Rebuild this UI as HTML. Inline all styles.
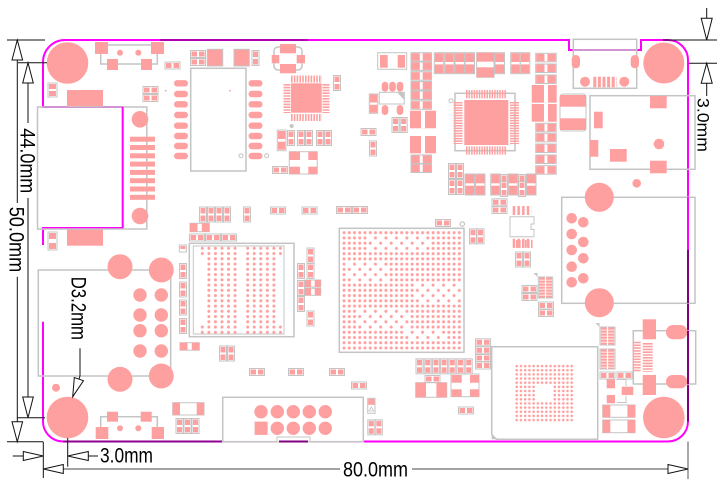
<!DOCTYPE html>
<html><head><meta charset="utf-8"><style>
html,body{margin:0;padding:0;background:#fff;}
svg{display:block}
.p{fill:#ffa0a0}
.g{fill:none;stroke:#c4c4c4;stroke-width:1.5}
.gw{fill:#fff;stroke:#c4c4c4;stroke-width:1}
.k{stroke:#111;stroke-width:1;fill:none}
.a{fill:#fff;stroke:#111;stroke-width:1}
.t{font-family:"Liberation Sans",Arial,sans-serif;font-size:21px;fill:#000}
.pin{fill:none;stroke:#ffa0a0}
</style></head><body>
<svg width="724" height="491" viewBox="0 0 724 491" xmlns="http://www.w3.org/2000/svg">
<defs>
<g id="rh"><rect x="0.5" y="0.5" width="15" height="7" class="gw"/><rect x="1.5" y="1.5" width="5.5" height="5" class="p"/><rect x="9" y="1.5" width="5.5" height="5" class="p"/></g>
<g id="rv"><rect x="0.5" y="0.5" width="7" height="15" class="gw"/><rect x="1.5" y="1.5" width="5" height="5.5" class="p"/><rect x="1.5" y="9" width="5" height="5.5" class="p"/></g>
<g id="ch"><rect x="0" y="0" width="20.5" height="8.5" class="gw"/><rect x="0.5" y="0.5" width="8.3" height="7.5" class="p"/><rect x="11.7" y="0.5" width="8.3" height="7.5" class="p"/></g>
<g id="cv"><rect x="0" y="0" width="9.5" height="21" class="gw"/><rect x="0.5" y="0.5" width="8.5" height="8.8" class="p"/><rect x="0.5" y="11.7" width="8.5" height="8.8" class="p"/></g>
<pattern id="dd" width="6.55" height="5.25" patternUnits="userSpaceOnUse"><circle cx="3.275" cy="2.625" r="1.5" fill="#ffa0a0"/></pattern>
<pattern id="sb" width="5.24" height="5.24" patternUnits="userSpaceOnUse"><circle cx="2.62" cy="2.62" r="1.5" fill="#ffa0a0"/></pattern>
<pattern id="vd" width="10.48" height="10.48" patternUnits="userSpaceOnUse"><circle cx="2.62" cy="2.62" r="2.3" fill="#fff"/><circle cx="7.86" cy="7.86" r="2.3" fill="#fff"/></pattern>
<pattern id="em" width="4.23" height="4.15" patternUnits="userSpaceOnUse"><circle cx="2.115" cy="2.075" r="1.3" fill="#ffa0a0"/></pattern>
</defs>
<rect width="724" height="491" fill="#fff"/>

<!-- board outline -->
<path d="M65 40 H569 V50 H641 V40 H668 A20 20 0 0 1 688 60 V421.5 A20 20 0 0 1 668 441.5 H63 A20 20 0 0 1 43 421.5 V321.7" fill="none" stroke="#ff00ff" stroke-width="2"/>
<path d="M43 245 V228 H122.7 V107 H43 V62 A22 22 0 0 1 65 40" fill="none" stroke="#ff00ff" stroke-width="2"/>
<line x1="688" y1="250" x2="688" y2="421.5" stroke="#800080" stroke-width="2"/>
<line x1="63" y1="441.5" x2="222" y2="441.5" stroke="#900090" stroke-width="2"/>
<line x1="160" y1="40" x2="308" y2="40" stroke="#b000b0" stroke-width="2"/>

<!-- mounting holes -->
<circle cx="67.5" cy="63" r="20.8" class="p"/>
<circle cx="67.5" cy="417.5" r="20.8" class="p"/>
<circle cx="663.8" cy="63" r="20.5" class="p"/>
<circle cx="663.8" cy="417.5" r="20.8" class="p"/>

<!-- top switch -->
<rect x="100.7" y="45" width="56.6" height="19" class="g"/>
<rect x="95" y="42" width="13" height="12" class="p"/>
<rect x="151" y="42" width="13" height="12" class="p"/>
<rect x="107" y="59" width="11" height="11" class="p"/>
<rect x="141" y="59" width="11" height="11" class="p"/>
<circle cx="120" cy="52.7" r="3" class="p"/>
<circle cx="138.3" cy="52.7" r="3" class="p"/>

<use href="#rh" x="164.5" y="61.5"/>
<use href="#rh" x="190" y="50"/>
<use href="#rh" x="190" y="58"/>
<rect x="207.3" y="49.3" width="15.4" height="16.7" class="p" stroke="#c4c4c4"/>
<rect x="234" y="49.3" width="15.3" height="16.7" class="p" stroke="#c4c4c4"/>
<use href="#rv" x="251.5" y="50"/>

<!-- module -->
<rect x="190.7" y="68.3" width="55.3" height="102.7" class="g"/>
<g class="p">
<rect x="174" y="80.1" width="14" height="6.4" rx="3.2"/><rect x="174" y="90.8" width="14" height="6.4" rx="3.2"/>
<rect x="174" y="101.1" width="14" height="6.4" rx="3.2"/><rect x="174" y="111.8" width="14" height="6.4" rx="3.2"/>
<rect x="174" y="122.5" width="14" height="6.4" rx="3.2"/><rect x="174" y="132.8" width="14" height="6.4" rx="3.2"/>
<rect x="174" y="142.8" width="14" height="6.4" rx="3.2"/><rect x="174" y="152.8" width="14" height="6.4" rx="3.2"/>
<rect x="248.5" y="80.1" width="14" height="6.4" rx="3.2"/><rect x="248.5" y="90.8" width="14" height="6.4" rx="3.2"/>
<rect x="248.5" y="101.1" width="14" height="6.4" rx="3.2"/><rect x="248.5" y="111.8" width="14" height="6.4" rx="3.2"/>
<rect x="248.5" y="122.5" width="14" height="6.4" rx="3.2"/><rect x="248.5" y="132.8" width="14" height="6.4" rx="3.2"/>
<rect x="248.5" y="142.8" width="14" height="6.4" rx="3.2"/><rect x="248.5" y="152.8" width="14" height="6.4" rx="3.2"/>
<circle cx="165.7" cy="90.7" r="0.9"/><circle cx="230" cy="90.7" r="0.9"/>
</g>
<circle cx="241" cy="155.7" r="2" fill="none" stroke="#c4c4c4"/>
<circle cx="266.7" cy="155.7" r="2" fill="none" stroke="#c4c4c4"/>

<use href="#rh" x="142.5" y="86"/>
<use href="#rh" x="142.5" y="94"/>

<!-- left small parts -->
<rect x="48" y="83" width="9" height="14" class="gw"/>
<rect x="49" y="84" width="7" height="5" class="p"/><rect x="49" y="91" width="7" height="5" class="p"/>
<rect x="48" y="232" width="9" height="18" class="gw"/>
<rect x="49" y="233" width="7" height="6" class="p"/><rect x="49" y="243" width="7" height="6" class="p"/>
<rect x="67" y="90" width="36" height="17" class="p"/>
<rect x="67" y="228.7" width="36" height="17" class="p"/>

<!-- SD box -->
<rect x="37.5" y="107" width="109.3" height="122" class="g"/>
<line x1="122.7" y1="107" x2="122.7" y2="228" stroke="#ff00ff" stroke-width="1.5"/>
<g class="p">
<rect x="130" y="136.7" width="25" height="5"/><rect x="130" y="145" width="25" height="5"/>
<rect x="130" y="153.3" width="25" height="5"/><rect x="130" y="161.6" width="25" height="5"/>
<rect x="130" y="169.9" width="25" height="5"/><rect x="130" y="178.2" width="25" height="5"/>
<rect x="130" y="186.5" width="25" height="5"/><rect x="130" y="194.8" width="25" height="5"/>
<circle cx="140" cy="119.3" r="8.3"/><circle cx="140" cy="216" r="8.3"/>
</g>

<!-- oscillator -->
<rect x="274" y="47" width="28" height="23" rx="4" class="g"/>
<g class="p">
<rect x="280" y="44" width="16" height="9.3"/><rect x="280" y="64" width="16" height="9.3"/>
<rect x="271.7" y="55" width="7.6" height="8.3"/><rect x="296.7" y="55" width="8.3" height="8.3"/>
</g>
<!-- QFN -->
<rect x="291" y="83.3" width="30.7" height="29.4" class="p"/>
<line x1="291" y1="79" x2="322" y2="79" class="pin" stroke-width="7" stroke-dasharray="1.6 1.2"/>
<line x1="291" y1="117.5" x2="322" y2="117.5" class="pin" stroke-width="7" stroke-dasharray="1.6 1.2"/>
<line x1="287" y1="84" x2="287" y2="113" class="pin" stroke-width="7" stroke-dasharray="1.6 1.2"/>
<line x1="326" y1="84" x2="326" y2="113" class="pin" stroke-width="7" stroke-dasharray="1.6 1.2"/>
<use href="#rv" x="333" y="75"/>
<circle cx="291.7" cy="126" r="2" fill="#c4c4c4"/>
<rect x="277.3" y="130" width="8.7" height="20.7" class="gw"/>
<rect x="278" y="131" width="7.3" height="8" class="p"/><rect x="278" y="141.7" width="7.3" height="8" class="p"/>
<use href="#rv" x="287" y="130"/>
<use href="#rv" x="297" y="130"/>
<use href="#rv" x="305" y="130"/>
<use href="#rv" x="316" y="130"/>
<use href="#rv" x="324" y="130"/>
<rect x="289.3" y="151.7" width="28" height="22.3" class="gw"/>
<g class="p">
<rect x="289.3" y="151.7" width="10.7" height="8.3"/><rect x="308.3" y="151.7" width="9" height="8.3"/>
<rect x="289.3" y="166.7" width="10.7" height="7.3"/><rect x="308.3" y="166.7" width="9" height="7.3"/>
</g>
<use href="#rh" x="272" y="166"/>

<!-- top middle -->
<rect x="377.7" y="52.7" width="29" height="16.6" class="gw"/>
<rect x="380" y="55" width="7.7" height="12.7" class="p"/><rect x="397.7" y="55" width="7.3" height="12.7" class="p"/>
<use href="#ch" x="411" y="52.7"/>
<use href="#ch" x="411" y="61.9"/>
<use href="#ch" x="411" y="71.7"/>
<use href="#ch" x="411" y="81.5"/>
<use href="#ch" x="411" y="91"/>
<use href="#ch" x="411" y="100.8"/>
<rect x="410" y="110.7" width="26" height="17.6" class="p"/><rect x="421" y="110.7" width="4" height="17.6" fill="#fff"/>
<rect x="410" y="136" width="26" height="17.3" class="p"/><rect x="421" y="136" width="4" height="17.3" fill="#fff"/>
<use href="#ch" x="411" y="155"/>
<use href="#ch" x="411" y="164"/>
<use href="#cv" x="434.3" y="52.7"/>
<use href="#cv" x="444.7" y="52.7"/>
<use href="#cv" x="455" y="52.7"/>
<use href="#cv" x="465" y="52.7"/>
<rect x="476.7" y="52.7" width="17.3" height="24.6" class="gw"/>
<rect x="476.7" y="52.7" width="17.3" height="9" class="p"/><rect x="476.7" y="67.3" width="17.3" height="10" class="p"/>
<use href="#cv" x="495" y="52.7"/>
<use href="#cv" x="510.7" y="52.7"/>
<use href="#cv" x="520.3" y="52.7"/>

<!-- SOT -->
<g class="p">
<rect x="381.7" y="81.7" width="6.6" height="10" rx="3.3"/><rect x="389.2" y="81.7" width="6.6" height="10" rx="3.3"/><rect x="396.7" y="81.7" width="6.6" height="10" rx="3.3"/>
<rect x="381.7" y="105" width="6.6" height="10" rx="3.3"/><rect x="396.7" y="105" width="6.6" height="10" rx="3.3"/>
</g>
<rect x="379.3" y="92.3" width="25" height="11.7" class="gw" stroke-width="1.5"/>
<polygon points="404.3,92.3 404.3,100 397,92.3" fill="#c4c4c4"/>
<rect x="369.3" y="94" width="8.4" height="19.3" class="gw"/>
<rect x="369.8" y="94.5" width="7.4" height="8" class="p"/><rect x="369.8" y="104.8" width="7.4" height="8" class="p"/>
<use href="#rv" x="391.5" y="117"/>
<use href="#rv" x="399.7" y="117"/>
<use href="#rh" x="360.5" y="128"/>
<use href="#rv" x="369" y="140.5"/>

<!-- QFP -->
<rect x="455" y="93.3" width="60" height="57.4" class="g" stroke-width="1.2"/>
<rect x="464.3" y="100" width="44" height="45" class="p"/>
<line x1="466" y1="94.2" x2="507" y2="94.2" class="pin" stroke-width="8.3" stroke-dasharray="1.5 1.06"/>
<line x1="466" y1="150.5" x2="507" y2="150.5" class="pin" stroke-width="8.3" stroke-dasharray="1.5 1.06"/>
<line x1="458" y1="102" x2="458" y2="144" class="pin" stroke-width="9" stroke-dasharray="1.5 1.06"/>
<line x1="514.5" y1="102" x2="514.5" y2="144" class="pin" stroke-width="9" stroke-dasharray="1.5 1.06"/>
<circle cx="451" cy="100.7" r="2" fill="none" stroke="#c4c4c4"/>

<!-- right column -->
<use href="#ch" x="535.7" y="53.3"/>
<use href="#ch" x="535.7" y="64"/>
<use href="#ch" x="535.7" y="75"/>
<rect x="531.7" y="85" width="25" height="17.7" class="p"/><rect x="544" y="85" width="4" height="17.7" fill="#fff"/>
<rect x="531.7" y="104" width="25" height="17.7" class="p"/><rect x="544" y="104" width="4" height="17.7" fill="#fff"/>
<use href="#ch" x="535.7" y="123.3"/>
<use href="#ch" x="535.7" y="133.3"/>
<use href="#ch" x="535.7" y="144"/>
<use href="#ch" x="535.7" y="155"/>
<use href="#ch" x="535.7" y="165.7"/>
<rect x="560" y="94" width="26" height="37" rx="3" class="gw"/>
<rect x="560" y="95" width="26" height="11.7" class="p"/><rect x="560" y="118.3" width="26" height="11.7" class="p"/>

<!-- USB -->
<rect x="573.3" y="39.3" width="63.4" height="49" class="g"/>
<line x1="573.3" y1="50" x2="636.7" y2="50" stroke="#c4c4c4" stroke-width="1.5"/>
<rect x="571.7" y="55" width="8.3" height="13.3" rx="4.1" class="p"/>
<rect x="630.7" y="55" width="8.3" height="13.3" rx="4.1" class="p"/>
<circle cx="585" cy="81.7" r="5" class="p"/><circle cx="624.3" cy="81.7" r="5" class="p"/>
<line x1="593.3" y1="82" x2="616.7" y2="82" class="pin" stroke-width="10.6" stroke-dasharray="3 1.6"/>

<!-- right box -->
<rect x="590" y="95.7" width="105" height="73.6" class="g"/>
<g class="p">
<rect x="650" y="96" width="16.7" height="12.3"/><rect x="650" y="160.7" width="16.7" height="12.6"/>
<rect x="594" y="111.7" width="8.7" height="16.6"/><rect x="590" y="140" width="8.3" height="16.7"/>
<rect x="610" y="149" width="16.7" height="12.7"/>
<circle cx="659" cy="144" r="5.3"/>
<circle cx="636.7" cy="183.3" r="4.3"/>
</g>

<!-- middle rows -->
<use href="#rv" x="448" y="163"/>
<use href="#rv" x="456" y="163"/>
<use href="#rv" x="448" y="179"/>
<use href="#rv" x="456" y="179"/>
<use href="#cv" x="465" y="174"/>
<use href="#cv" x="475.5" y="174"/>
<use href="#cv" x="490.7" y="174"/>
<use href="#rv" x="500" y="174"/>
<use href="#rv" x="500" y="181"/>
<use href="#cv" x="508.3" y="174"/>
<use href="#rv" x="518" y="174"/>
<use href="#rv" x="518" y="181"/>
<use href="#cv" x="526.5" y="174"/>
<use href="#rh" x="491.5" y="198.3"/>
<use href="#rh" x="491.5" y="206"/>
<line x1="512.7" y1="210.5" x2="531.7" y2="210.5" class="pin" stroke-width="9" stroke-dasharray="2.5 2.2"/>
<line x1="512.7" y1="243.3" x2="531.7" y2="243.3" class="pin" stroke-width="9" stroke-dasharray="2.5 2.2"/>
<path d="M510 216.7 H534 V224 H531 V229.5 H534 V236.7 H510 Z" class="gw" stroke-width="1.5"/>
<use href="#rv" x="469" y="228.3"/>
<use href="#rv" x="476.5" y="228.3"/>
<use href="#rh" x="435" y="219"/>
<circle cx="462.3" cy="224" r="2.2" fill="none" stroke="#c4c4c4" stroke-width="1.2"/>
<use href="#rh" x="336" y="206"/>
<use href="#rh" x="352" y="206"/>

<use href="#rv" x="199" y="206.5"/>
<use href="#rv" x="207" y="206.5"/>
<use href="#rv" x="215" y="206.5"/>
<use href="#rv" x="223" y="206.5"/>
<use href="#rv" x="243" y="206.5"/>
<use href="#rh" x="270" y="206.5"/>
<use href="#rh" x="301.5" y="206.5"/>
<rect x="190" y="223.3" width="19.3" height="8.4" class="gw"/>
<rect x="190" y="223.3" width="7.5" height="8.4" class="p"/><rect x="201.8" y="223.3" width="7.5" height="8.4" class="p"/>
<use href="#rh" x="189" y="233.5"/>
<use href="#rh" x="205" y="233.5"/>
<use href="#rh" x="221" y="233.5"/>

<!-- DDR left column -->
<rect x="179.3" y="245" width="7" height="7" class="gw"/><rect x="180.3" y="246" width="5" height="3" class="p"/>
<use href="#rv" x="179" y="263"/>
<use href="#rv" x="179" y="281.5"/>
<use href="#rv" x="179" y="299.5"/>
<use href="#rv" x="179" y="318"/>

<!-- DDR -->
<rect x="189.3" y="243.3" width="104.7" height="93.4" class="g"/>
<rect x="193.3" y="246" width="90.7" height="88" fill="none" stroke="#c4c4c4" stroke-width="1"/>
<rect transform="translate(205.6,245.7)" width="32.75" height="89.25" fill="url(#dd)"/>
<rect transform="translate(199,245.7)" width="6.55" height="10.5" fill="url(#dd)"/>
<rect transform="translate(199,324.45)" width="6.55" height="10.5" fill="url(#dd)"/>
<rect transform="translate(244.4,245.7)" width="32.75" height="89.25" fill="url(#dd)"/>
<rect transform="translate(277.2,245.7)" width="6.55" height="10.5" fill="url(#dd)"/>
<rect transform="translate(277.2,324.45)" width="6.55" height="10.5" fill="url(#dd)"/>

<!-- right of DDR -->
<use href="#rv" x="297" y="263"/>
<use href="#rv" x="297" y="280"/>
<use href="#rv" x="297" y="296"/>
<use href="#rv" x="306.5" y="247.5"/>
<use href="#rv" x="306.5" y="263"/>
<rect x="305" y="280" width="15.7" height="7" class="gw"/><rect x="305" y="280" width="6" height="7" class="p"/><rect x="314.7" y="280" width="6" height="7" class="p"/>
<rect x="305" y="288.3" width="15.7" height="7" class="gw"/><rect x="305" y="288.3" width="6" height="7" class="p"/><rect x="314.7" y="288.3" width="6" height="7" class="p"/>
<use href="#rv" x="306.5" y="310.5"/>

<!-- below DDR -->
<rect x="180" y="342.7" width="19.3" height="7.5" class="gw"/><rect x="180" y="342.7" width="7.5" height="7.5" class="p"/><rect x="191.8" y="342.7" width="7.5" height="7.5" class="p"/>
<use href="#rv" x="219" y="345.5"/>
<use href="#rv" x="227" y="345.5"/>
<use href="#rh" x="249" y="368"/>
<use href="#rh" x="288" y="368"/>
<use href="#rh" x="329" y="368"/>
<use href="#rh" x="351" y="381.5"/>

<!-- SoC -->
<rect x="339.3" y="228.3" width="124.7" height="124" class="g"/>
<rect transform="translate(341.4,230.1)" width="120.52" height="120.52" fill="url(#sb)"/>
<rect transform="translate(367.6,235.34)" width="62.9" height="15.7" fill="url(#vd)"/>
<rect transform="translate(346.64,261.54)" width="41.9" height="21" fill="url(#vd)"/>
<rect transform="translate(414.76,282.5)" width="47.2" height="21" fill="url(#vd)"/>
<rect transform="translate(357.12,308.7)" width="52.4" height="21" fill="url(#vd)"/>
<rect transform="translate(404.28,329.66)" width="41.9" height="10.5" fill="url(#vd)"/>

<!-- below SoC -->
<use href="#rv" x="415.5" y="358.3"/>
<use href="#rv" x="423.7" y="358.3"/>
<use href="#rv" x="431.9" y="358.3"/>
<use href="#rv" x="440.1" y="358.3"/>
<use href="#rv" x="448.3" y="358.3"/>
<use href="#rv" x="456.5" y="358.3"/>
<use href="#rv" x="464.7" y="358.3"/>
<use href="#rh" x="424.5" y="375"/>
<rect x="415.7" y="382.7" width="31" height="14.6" class="gw"/>
<rect x="415.7" y="382.7" width="10.3" height="14.6" class="p"/><rect x="436.4" y="382.7" width="10.3" height="14.6" class="p"/>
<rect x="451" y="374" width="28" height="22.7" class="gw"/>
<g class="p">
<rect x="451.7" y="375" width="10" height="7.7"/><rect x="470" y="375" width="9" height="7.7"/>
<rect x="451.7" y="389.3" width="10" height="7.4"/><rect x="470" y="389.3" width="9" height="7.4"/>
</g>
<use href="#rh" x="475" y="338.3"/>
<use href="#rh" x="475" y="346.3"/>
<use href="#rh" x="475" y="354"/>
<use href="#rh" x="475" y="361.5"/>
<use href="#rh" x="458" y="406.5"/>
<rect x="367.7" y="398.3" width="7.3" height="15" class="gw"/>
<rect x="368.2" y="398.8" width="6.3" height="6" class="p"/><polygon points="369,411 373.7,411 371.3,407" fill="none" stroke="#c4c4c4" stroke-width="0.8"/>
<use href="#rv" x="367.3" y="419.3"/>
<use href="#rv" x="374.8" y="419.3"/>

<!-- eMMC -->
<path d="M491.7 346.7 H597.7 V439.3 H496.5 L491.7 434.5 Z" class="g"/>
<polygon points="491.7,439.3 496.5,439.3 491.7,434.5" fill="#c4c4c4"/>
<rect transform="translate(514.6,364)" width="59.22" height="58.1" fill="url(#em)"/>
<rect x="535.7" y="384.7" width="16.9" height="16.6" fill="#fff"/>

<!-- right of eMMC -->
<polygon points="513,240 533,240 533,248 513,248" fill="none"/>
<line x1="513" y1="244" x2="533" y2="244" class="pin" stroke-width="8" stroke-dasharray="1.6 1.4"/>
<use href="#rv" x="515" y="251.5"/>
<use href="#rv" x="523" y="251.5"/>
<use href="#rh" x="521.5" y="285"/>
<use href="#rh" x="521.5" y="293"/>
<rect x="538.3" y="277" width="14.4" height="21" class="gw"/>
<line x1="545.5" y1="277.5" x2="545.5" y2="297.5" class="pin" stroke-width="13" stroke-dasharray="2.2 0.8"/>
<line x1="545.5" y1="277" x2="545.5" y2="298" stroke="#fff" stroke-width="1.2"/>
<polygon points="533.5,273 537.5,273 537.5,277" fill="#c4c4c4"/>
<use href="#rh" x="538" y="301.5"/>
<use href="#rh" x="538" y="309"/>
<rect x="600" y="327" width="15" height="18" class="gw"/>
<line x1="607.5" y1="327.5" x2="607.5" y2="344.5" class="pin" stroke-width="13.5" stroke-dasharray="2.2 0.8"/>
<line x1="607.5" y1="327" x2="607.5" y2="345" stroke="#fff" stroke-width="1.2"/>
<rect x="600" y="349" width="15" height="20" class="gw"/>
<line x1="607.5" y1="349.5" x2="607.5" y2="368.5" class="pin" stroke-width="13.5" stroke-dasharray="2.2 0.8"/>
<line x1="607.5" y1="349" x2="607.5" y2="369" stroke="#fff" stroke-width="1.2"/>
<polygon points="595.5,323 599.5,323 599.5,327" fill="#c4c4c4"/>
<use href="#rh" x="599.5" y="371.5"/>
<use href="#rh" x="616.5" y="371.5"/>
<rect x="606.7" y="379.3" width="8.3" height="9" class="p"/>
<rect x="606.7" y="395" width="8.3" height="8.3" class="p"/>
<rect x="621.7" y="386.7" width="11.6" height="8.3" class="p"/>
<path d="M617 379.5 H626 V386 M626 395.5 V402.5 H617" fill="none" stroke="#c4c4c4" stroke-width="1"/>
<rect x="602.7" y="405" width="32.3" height="12.3" class="gw"/>
<rect x="602.7" y="405" width="7.6" height="12.3" class="p"/><rect x="627.4" y="405" width="7.6" height="12.3" class="p"/>
<rect x="602.7" y="420" width="32.3" height="12.7" class="gw"/>
<rect x="602.7" y="420" width="7.6" height="12.7" class="p"/><rect x="627.4" y="420" width="7.6" height="12.7" class="p"/>

<!-- right connector -->
<rect x="633.3" y="330.7" width="62.4" height="53.3" class="g"/>
<rect x="642.7" y="319.3" width="13.3" height="20" class="p"/>
<rect x="642.7" y="375" width="13.3" height="20" class="p"/>
<rect x="666" y="325" width="21.3" height="14.3" rx="7" class="p"/>
<rect x="666" y="375" width="21.3" height="13.3" rx="6.6" class="p"/>
<line x1="636.7" y1="341.7" x2="636.7" y2="371.7" class="pin" stroke-width="8" stroke-dasharray="1.6 1.2"/>
<line x1="647.7" y1="343" x2="647.7" y2="371.7" class="pin" stroke-width="10" stroke-dasharray="1.6 1.2"/>

<!-- right RJ45 -->
<rect x="561.7" y="197.3" width="133.3" height="106" class="g"/>
<g class="p">
<circle cx="599.3" cy="197.3" r="14.5"/><circle cx="599.3" cy="302.7" r="14.5"/>
<circle cx="571.7" cy="218.3" r="5.3"/><circle cx="583.3" cy="222.3" r="5.3"/>
<circle cx="571.7" cy="234" r="5.3"/><circle cx="583.3" cy="242" r="5.3"/>
<circle cx="571.7" cy="250" r="5.3"/><circle cx="583.3" cy="258.3" r="5.3"/>
<circle cx="571.7" cy="266.7" r="5.3"/><circle cx="583.3" cy="278.3" r="5.3"/>
<circle cx="571.7" cy="282.3" r="5.3"/>
</g>
<line x1="688" y1="197.3" x2="688" y2="250" stroke="#ff00ff" stroke-width="2"/>
<line x1="688" y1="250" x2="688" y2="303.3" stroke="#800080" stroke-width="2"/>
<line x1="688" y1="330.7" x2="688" y2="384" stroke="#800080" stroke-width="2"/>

<!-- left RJ45 -->
<rect x="38.3" y="270" width="132.4" height="106" class="g"/>
<g class="p">
<circle cx="120" cy="266.7" r="12.5"/><circle cx="161.3" cy="270" r="12.5"/>
<circle cx="120" cy="379.3" r="12.5"/><circle cx="161.3" cy="376" r="12.5"/>
<circle cx="140" cy="295" r="6.7"/><circle cx="161.3" cy="295" r="6.7"/>
<circle cx="140" cy="315" r="6.7"/><circle cx="161.3" cy="315" r="6.7"/>
<circle cx="140" cy="330.7" r="6.7"/><circle cx="161.3" cy="330.7" r="6.7"/>
<circle cx="140" cy="351" r="6.7"/><circle cx="161.3" cy="351" r="6.7"/>
<circle cx="56" cy="387.7" r="4"/>
</g>

<!-- bottom switch -->
<path d="M100.7 436.7 V416.7 H157.3 V436.7" class="g"/>
<g class="p">
<rect x="95.7" y="427" width="12.6" height="12"/><rect x="151.7" y="427" width="12.3" height="12"/>
<rect x="107" y="411.7" width="11" height="10"/><rect x="140.7" y="411.7" width="11" height="10"/>
<circle cx="120" cy="428.3" r="3"/><circle cx="138.3" cy="428.3" r="3"/>
</g>
<rect x="172.7" y="402.7" width="31.3" height="12.3" class="gw"/>
<rect x="172.7" y="402.7" width="7.3" height="12.3" class="p"/><rect x="196.7" y="402.7" width="7.3" height="12.3" class="p"/>
<use href="#rv" x="175.5" y="418"/>
<use href="#rv" x="183.5" y="418"/>
<use href="#rv" x="191.5" y="418"/>

<!-- bottom connector -->
<rect x="222.7" y="397.3" width="140.6" height="44.4" fill="#fff" stroke="#c4c4c4" stroke-width="1.5"/>
<g class="p">
<circle cx="261" cy="411.7" r="6.7"/><circle cx="277.3" cy="411.7" r="6.7"/><circle cx="293.3" cy="411.7" r="6.7"/><circle cx="309.3" cy="411.7" r="6.7"/><circle cx="325.3" cy="411.7" r="6.7"/>
<rect x="254.6" y="421.6" width="13" height="13.3"/><circle cx="277.3" cy="428.3" r="6.7"/><circle cx="293.3" cy="428.3" r="6.7"/><circle cx="309.3" cy="428.3" r="6.7"/><circle cx="325.3" cy="428.3" r="6.7"/>
</g>
<rect x="277" y="437" width="33" height="5" class="gw"/>
<line x1="279" y1="441.5" x2="308" y2="441.5" stroke="#800080" stroke-width="2"/>

<!-- dimensions -->
<g class="k">
<line x1="7" y1="40" x2="45" y2="40"/>
<line x1="18" y1="62.7" x2="47" y2="62.7"/>
<line x1="17.3" y1="40" x2="17.3" y2="203"/>
<line x1="17.3" y1="276.7" x2="17.3" y2="441.7"/>
<line x1="28" y1="62.7" x2="28" y2="123"/>
<line x1="28" y1="198" x2="28" y2="417.7"/>
<line x1="17" y1="417.7" x2="45" y2="417.7"/>
<line x1="7" y1="441.7" x2="43" y2="441.7"/>
<line x1="43.3" y1="441.7" x2="43.3" y2="478"/>
<line x1="67.7" y1="438" x2="67.7" y2="466.7"/>
<line x1="12.7" y1="456" x2="43.3" y2="456"/>
<line x1="67.7" y1="456" x2="98" y2="456"/>
<line x1="43.3" y1="469" x2="340" y2="469" stroke="#444"/>
<line x1="412" y1="469" x2="688" y2="469" stroke="#444"/>
<line x1="688" y1="441.5" x2="688" y2="479" stroke="#555"/>
<line x1="706.7" y1="8" x2="706.7" y2="40"/>
<line x1="706.7" y1="63.3" x2="706.7" y2="96"/>
<line x1="663" y1="40" x2="717" y2="40"/>
<line x1="689" y1="63.3" x2="717" y2="63.3"/>
<line x1="80" y1="348.3" x2="80" y2="376"/>
<line x1="80" y1="376" x2="73" y2="396.7"/>
</g>
<g class="a">
<polygon points="17.3,40 12,60 22.6,60"/>
<polygon points="28,62.7 22.7,83 33.3,83"/>
<polygon points="28,417.7 22.7,397 33.3,397"/>
<polygon points="17.3,441.7 12,421.7 22.6,421.7"/>
<polygon points="43.3,456 23.3,451.5 23.3,460.5"/>
<polygon points="67.7,456 88.3,451.5 88.3,460.5"/>
<polygon points="43.3,469 63.3,464.5 63.3,473.5"/>
<polygon points="688,469 668,464.5 668,473.5"/>
<polygon points="706.7,40 701.2,18.3 712.2,18.3"/>
<polygon points="706.7,63.3 701.2,83.3 712.2,83.3"/>
<polygon points="72.7,396.7 74.3,377.5 83.5,380.7"/>
</g>

<text class="t" transform="translate(20.7,128.3) rotate(90)" textLength="65" lengthAdjust="spacingAndGlyphs">44.0mm</text>
<text class="t" transform="translate(9.5,206.7) rotate(90)" textLength="65.6" lengthAdjust="spacingAndGlyphs">50.0mm</text>
<text class="t" transform="translate(71.7,276.7) rotate(90)" textLength="63.3" lengthAdjust="spacingAndGlyphs">D3.2mm</text>
<text class="t" transform="translate(697.3,98) rotate(90)" style="font-size:16.5px" textLength="54" lengthAdjust="spacingAndGlyphs">3.0mm</text>
<text class="t" x="100" y="462.7" textLength="53" lengthAdjust="spacingAndGlyphs">3.0mm</text>
<text class="t" x="343" y="476.3" textLength="65" lengthAdjust="spacingAndGlyphs">80.0mm</text>
</svg>
</body></html>
